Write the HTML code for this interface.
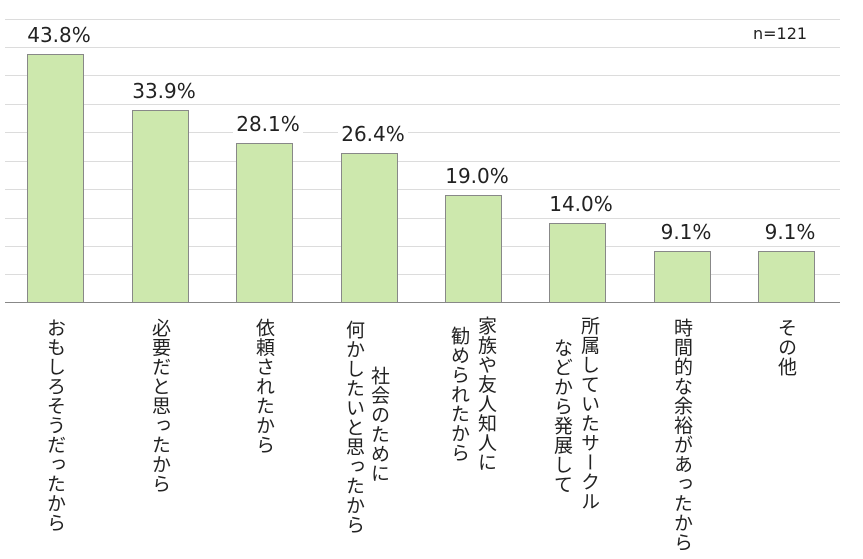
<!DOCTYPE html>
<html><head><meta charset="utf-8"><style>
body{margin:0;width:863px;height:559px;background:#fff;position:relative;overflow:hidden;font-family:"DejaVu Sans","Noto Sans CJK JP",sans-serif;color:#222}
.g{position:absolute;left:5px;width:835px;height:1px;background:#dcdcdc}
.bar{position:absolute;width:57px;background:#cde8ad;border:1px solid #888;border-bottom:none;box-sizing:border-box}
.v{position:absolute;bottom:calc(559px - var(--t));width:104px;text-align:center;font-size:20px;line-height:22px}
.v span{background:#fff;padding:0 3px}
.c{position:absolute;writing-mode:vertical-rl;font-size:19px;line-height:22px;width:22px;letter-spacing:0.5px;font-family:"Noto Sans CJK JP",sans-serif}
</style></head><body>
<div class="g" style="top:19px"></div><div class="g" style="top:47px"></div><div class="g" style="top:75px"></div><div class="g" style="top:104px"></div><div class="g" style="top:132px"></div><div class="g" style="top:161px"></div><div class="g" style="top:189px"></div><div class="g" style="top:218px"></div><div class="g" style="top:246px"></div><div class="g" style="top:274px"></div>
<div class="g" style="top:302px;background:#888"></div>
<div style="position:absolute;left:750px;top:24px;font-size:16px;background:#fff;padding:0 3px">n=121</div>

<div class="bar" style="left:27px;top:54px;height:248px"></div>
<div class="bar" style="left:132px;top:110px;height:192px"></div>
<div class="bar" style="left:236px;top:143px;height:159px"></div>
<div class="bar" style="left:341px;top:153px;height:149px"></div>
<div class="bar" style="left:445px;top:195px;height:107px"></div>
<div class="bar" style="left:549px;top:223px;height:79px"></div>
<div class="bar" style="left:654px;top:251px;height:51px"></div>
<div class="bar" style="left:758px;top:251px;height:51px"></div>

<div class="v" style="left:7px;--t:46px"><span>43.8%</span></div>
<div class="v" style="left:112px;--t:102px"><span>33.9%</span></div>
<div class="v" style="left:216px;--t:135px"><span>28.1%</span></div>
<div class="v" style="left:321px;--t:145px"><span>26.4%</span></div>
<div class="v" style="left:425px;--t:187px"><span>19.0%</span></div>
<div class="v" style="left:529px;--t:215px"><span>14.0%</span></div>
<div class="v" style="left:634px;--t:243px"><span>9.1%</span></div>
<div class="v" style="left:738px;--t:243px"><span>9.1%</span></div>

<div class="c" style="left:45px;top:318px">おもしろそうだったから</div>
<div class="c" style="left:150px;top:318px">必要だと思ったから</div>
<div class="c" style="left:254px;top:318px">依頼されたから</div>
<div class="c" style="left:369px;top:366px">社会のために</div>
<div class="c" style="left:344px;top:320px">何かしたいと思ったから</div>
<div class="c" style="left:476px;top:316px">家族や友人知人に</div>
<div class="c" style="left:449px;top:326px">勧められたから</div>
<div class="c" style="left:579px;top:316px">所属していたサークル</div>
<div class="c" style="left:552px;top:338px">などから発展して</div>
<div class="c" style="left:672px;top:318px">時間的な余裕があったから</div>
<div class="c" style="left:776px;top:318px">その他</div>
</body></html>
